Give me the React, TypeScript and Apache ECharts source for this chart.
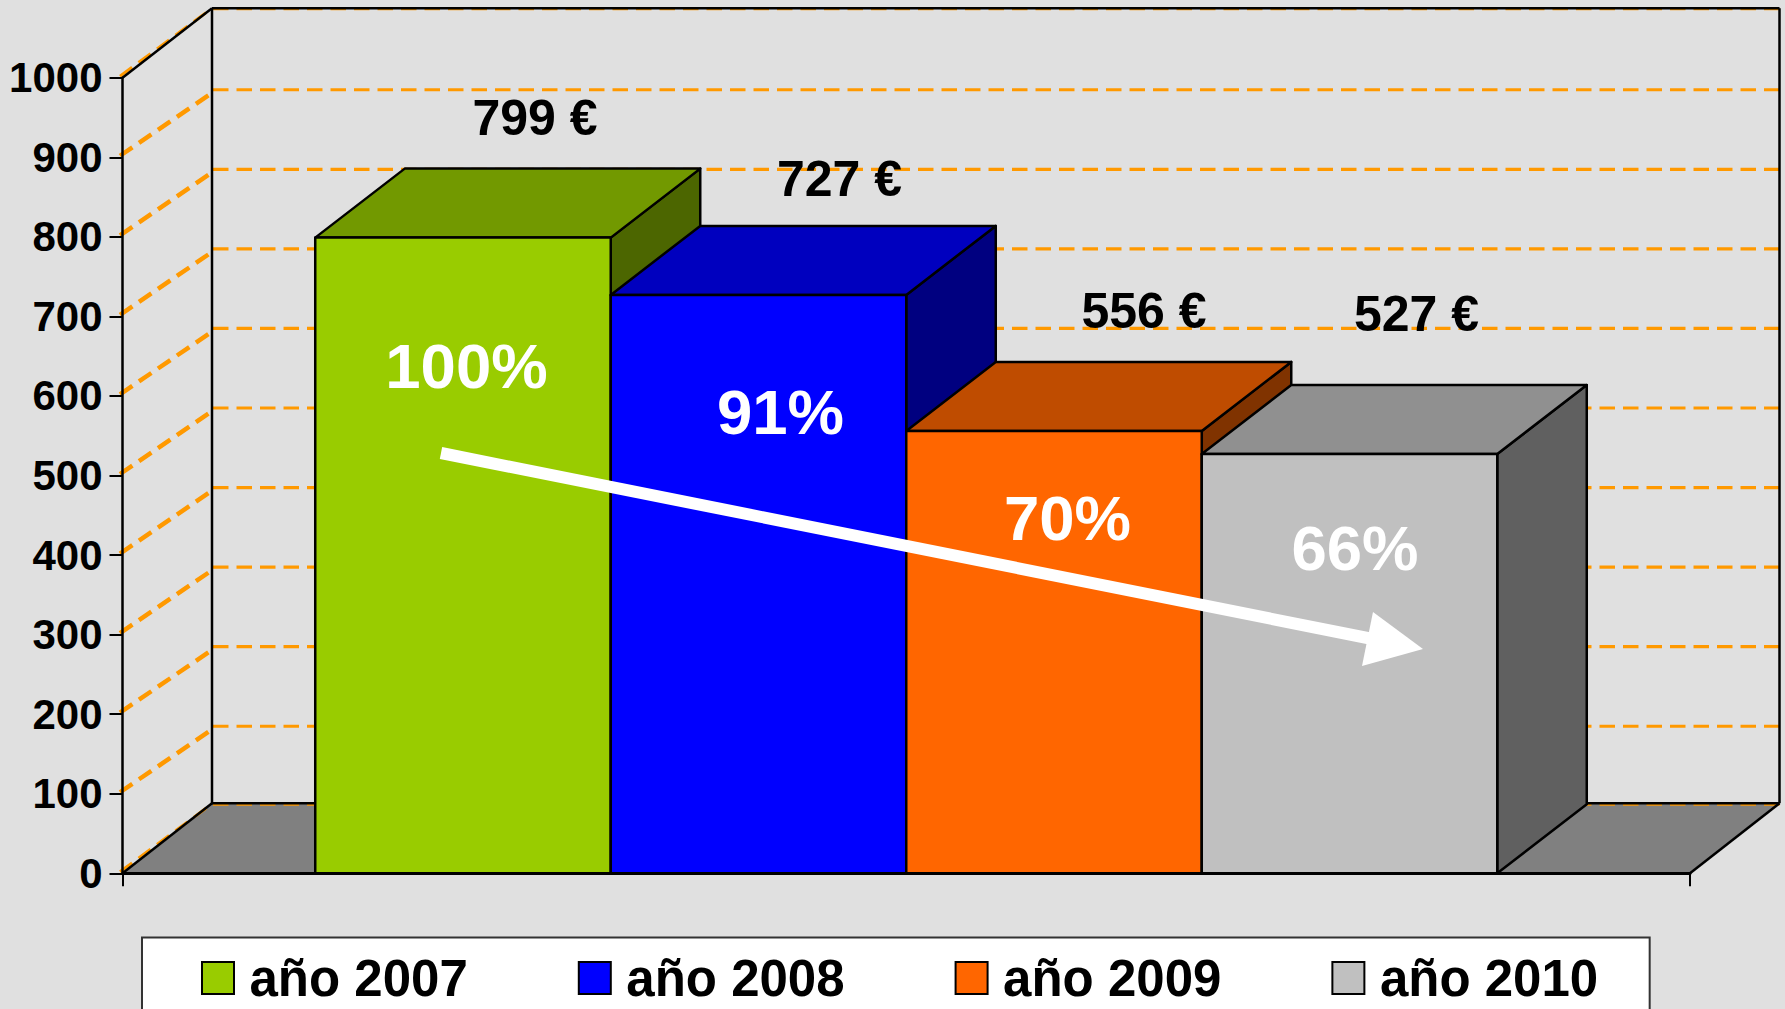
import React, { useEffect, useRef } from "react";
import * as echarts from "echarts";

const categories = ["Coste"];
const seriesNames = ["año 2007", "año 2008", "año 2009", "año 2010"];
const seriesValues = [799, 727, 556, 527];
const valueLabels = ["799 €", "727 €", "556 €", "527 €"];
const percentLabels = ["100%", "91%", "70%", "66%"];
const yTicks = [0, 100, 200, 300, 400, 500, 600, 700, 800, 900, 1000];

const frontColors = ["#99CC00", "#0000FF", "#FF6600", "#C0C0C0"];
const topColors = ["#729900", "#0000BF", "#BF4C00", "#909090"];
const sideColors = ["#4C6600", "#000080", "#803300", "#606060"];

const W = 1785;
const H = 1009;
const FONT = '"Liberation Sans", Arial, sans-serif';
const DEPTH_X = 89.5;
const DEPTH_Y = 69.5;
const BAR_DEPTH_Y = 69;
const BAR_FRACTION = 0.18852;
const ORANGE = "#FF9900";
const EDGE = "#000000";
const valueLabelOffsets = [[72, -120], [81, -115.6], [90, -120], [67, -140]];
const percentLabelOffsets = [[3.5, 128.7], [22, 117.4], [13.5, 87.3], [5.5, 94.2]];

const poly = (points: number[][], fill: string, z2 = 0) => ({
  type: "polygon",
  z2,
  shape: { points },
  style: { fill, stroke: EDGE, lineWidth: 2.5, lineJoin: "round" },
});

const seg = (x1: number, y1: number, x2: number, y2: number, stroke: string, lineWidth: number, lineDash?: number[]) => ({
  type: "line",
  shape: { x1, y1, x2, y2 },
  style: { stroke, lineWidth, lineDash: lineDash || null, fill: null },
});

const renderFloor = (_p: any, api: any) => {
  const [xc, y0] = api.coord([0, 0]);
  const band = api.size([1, 0])[0];
  const x0 = xc - band / 2;
  const x1 = xc + band / 2;
  const bx0 = x0 + DEPTH_X;
  const bx1 = x1 + DEPTH_X;
  const by0 = y0 - DEPTH_Y;
  return {
    type: "group",
    children: [
      {
        type: "polygon",
        shape: { points: [[x0, y0], [bx0, by0], [bx1, by0], [x1, y0]] },
        style: { fill: "#808080" },
      },
    ],
  };
};

const renderGrid = (_p: any, api: any) => {
  const v = api.value(0);
  const [xc, y] = api.coord([0, v]);
  const band = api.size([1, 0])[0];
  const x0 = xc - band / 2;
  const x1 = xc + band / 2;
  const bx0 = x0 + DEPTH_X;
  const bx1 = x1 + DEPTH_X;
  const edge = v === 0 || v === 1000;
  const by = edge ? y - 68.5 : y - 67.5;
  const slantEnd = edge ? y - 68 : y - 63;
  return {
    type: "group",
    children: [
      seg(x0 - 2.5, y - 1.5, bx0 - 2, slantEnd, ORANGE, edge ? 3 : 4.5, [15, 8]),
      seg(bx0 + 1, by, bx1, by, ORANGE, edge ? 2 : 3.2, [15.5, 8]),
    ],
  };
};

const renderEdges = (_p: any, api: any) => {
  const [xc, y0] = api.coord([0, 0]);
  const [, yTop] = api.coord([0, 1000]);
  const band = api.size([1, 0])[0];
  const x0 = xc - band / 2;
  const x1 = xc + band / 2;
  const bx0 = x0 + DEPTH_X;
  const bx1 = x1 + DEPTH_X;
  const by0 = y0 - DEPTH_Y - 0.5;
  const byTop = yTop - DEPTH_Y;
  return {
    type: "group",
    children: [
      seg(bx0, byTop, bx1, byTop, EDGE, 2.5),
      seg(bx0, byTop, bx0, by0, EDGE, 2.5),
      seg(bx1, byTop, bx1, by0, EDGE, 2.5),
      seg(bx0, by0, bx1, by0, EDGE, 2.5),
      seg(x0, yTop, bx0, byTop, EDGE, 2.5),
      seg(x0, y0, bx0, by0, EDGE, 2.5),
      seg(x1, y0, bx1, by0, EDGE, 2.5),
    ],
  };
};

const makeBar = (index: number) => (_p: any, api: any) => {
  const [xc, yv] = api.coord([api.value(0), api.value(1)]);
  const [, y0] = api.coord([0, 0]);
  const band = api.size([1, 0])[0];
  const w = band * BAR_FRACTION;
  const left = xc - 2 * w + index * w;
  const right = left + w;
  const center = left + w / 2;
  const dx = DEPTH_X;
  const dy = BAR_DEPTH_Y;
  const [lx, ly] = valueLabelOffsets[index];
  const [px, py] = percentLabelOffsets[index];
  const text = (t: string, x: number, y: number, size: number, fill: string) => ({
    type: "text",
    z2: 10,
    style: {
      text: t,
      x,
      y,
      fill,
      font: `bold ${size}px ${FONT}`,
      align: "center",
      verticalAlign: "middle",
    },
  });
  return {
    type: "group",
    children: [
      poly([[right, yv], [right + dx, yv - dy], [right + dx, y0 - dy], [right, y0]], sideColors[index]),
      poly([[left, yv], [left + dx, yv - dy], [right + dx, yv - dy], [right, yv]], topColors[index]),
      poly([[left, yv], [right, yv], [right, y0], [left, y0]], frontColors[index]),
      text(valueLabels[index], center + lx, yv + ly, 50, "#000000"),
      text(percentLabels[index], center + px, yv + py, 63.5, "#FFFFFF"),
    ],
  };
};

export default function App() {
  const ref = useRef<HTMLDivElement>(null);
  useEffect(() => {
    document.body.style.margin = "0";
    document.body.style.overflow = "hidden";
    const chart = echarts.init(ref.current!, null, { renderer: "svg" });
    chart.setOption({
      animation: false,
      backgroundColor: "#E0E0E0",
      textStyle: { fontFamily: FONT },
      grid: { left: 122.5, right: 95, top: 77.7, bottom: 135.7, containLabel: false, outerBoundsMode: "none" },
      legend: {
        left: 142,
        top: 937.5,
        orient: "horizontal",
        selectedMode: false,
        icon: "rect",
        itemWidth: 32,
        itemHeight: 32,
        itemGap: 110,
        padding: [15, 51.5, 40, 59],
        backgroundColor: "#FFFFFF",
        borderColor: "#333333",
        borderWidth: 2,
        textStyle: {
          fontFamily: FONT,
          fontWeight: "bold",
          fontSize: 51,
          color: "#000000",
          padding: [0, 0, 0, 10.5],
        },
        data: seriesNames.map((name, i) => ({
          name,
          itemStyle: { color: frontColors[i], borderColor: "#000000", borderWidth: 2 },
        })),
      },
      xAxis: {
        type: "category",
        data: categories,
        z: 6,
        axisLine: { show: true, lineStyle: { color: "#000000", width: 3 } },
        axisTick: { show: true, length: 13, lineStyle: { color: "#000000", width: 2 } },
        axisLabel: { show: false },
        splitLine: { show: false },
      },
      yAxis: {
        type: "value",
        min: 0,
        max: 1000,
        interval: 100,
        z: 6,
        axisLine: { show: true, lineStyle: { color: "#000000", width: 2.5 } },
        axisTick: { show: true, length: 13, lineStyle: { color: "#000000", width: 2 } },
        axisLabel: {
          color: "#000000",
          fontFamily: FONT,
          fontWeight: "bold",
          fontSize: 42,
          margin: 20,
          padding: [0, 0, 2, 0],
          formatter: (v: number) => String(v),
        },
        splitLine: { show: false },
      },
      series: [
        { type: "custom", name: "floor", z: 1, clip: false, silent: true, data: [[0]], renderItem: renderFloor },
        { type: "custom", name: "grid", z: 2, clip: false, silent: true, data: yTicks.map((t) => [t]), renderItem: renderGrid },
        { type: "custom", name: "edges", z: 3, clip: false, silent: true, data: [[0]], renderItem: renderEdges },
        ...seriesNames.map((name, i) => ({
          type: "custom",
          name,
          z: 4 + i,
          clip: false,
          itemStyle: { color: frontColors[i] },
          encode: { x: 0, y: 1 },
          data: [[0, seriesValues[i]]],
          renderItem: makeBar(i),
        })),
      ],
      graphic: [
        {
          type: "line",
          z: 30,
          shape: { x1: 441, y1: 453, x2: 1370, y2: 638.5 },
          style: { stroke: "#FFFFFF", lineWidth: 12 },
        },
        {
          type: "polygon",
          z: 30,
          shape: { points: [[1373, 612], [1423, 649], [1362, 666]] },
          style: { fill: "#FFFFFF" },
        },
      ],
    });
    return () => chart.dispose();
  }, []);
  return <div ref={ref} style={{ width: W, height: H }} />;
}
